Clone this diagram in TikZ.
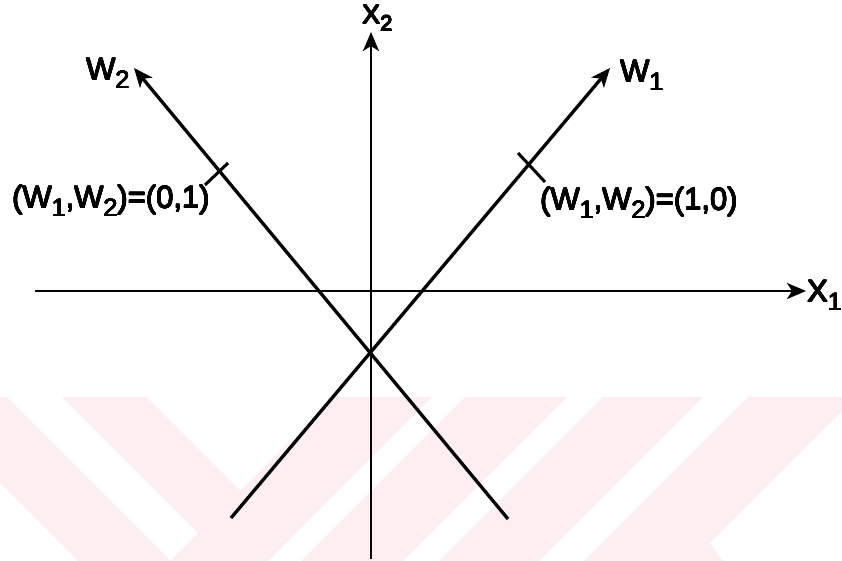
\documentclass[tikz,border=0pt]{standalone}
\usepackage{fontspec}
\setmainfont{Liberation Sans}
\usepackage{contour}
\contourlength{0.35pt}
\contournumber{16}
\usetikzlibrary{arrows.meta}
\definecolor{wmpink}{RGB}{253,238,241}
\newcommand\lowsub[1]{\raisebox{-0.27em}{\fontsize{25}{25}\selectfont #1}}
\newcommand\heavytext[1]{\contour{black}{#1}}
\begin{document}
\begin{tikzpicture}[x=1pt,y=-1pt,
  tipstyle/.style={-{Stealth[length=19pt,width=16pt,inset=5pt]}},
  axisline/.style={line width=2.4pt,tipstyle},
  wline/.style={line width=3.3pt,tipstyle},
  tickline/.style={line width=3pt},
  lbl/.style={font=\fontsize{31}{33}\selectfont, inner sep=0pt, anchor=base west},
  wm/.style={fill=wmpink, draw=none}]
\useasboundingbox (0,0) rectangle (842,561);
% watermark
\begin{scope}
\clip (0,397) rectangle (842,561);
\fill[wm] (-86,397) -- (7,397) -- (171,561) -- (78,561) -- cycle;
\fill[wm] (62,397) -- (147,397) -- (289.5,539.5) -- (268,561) -- (226,561) -- cycle;
\fill[wm] (334,397) -- (432,397) -- (268,561) -- (170,561) -- cycle;
\fill[wm] (465,397) -- (567,397) -- (403,561) -- (301,561) -- cycle;
\fill[wm] (603,397) -- (703,397) -- (539,561) -- (439,561) -- cycle;
\fill[wm] (748,397) -- (856,397) -- (710,543) -- (723,561) -- (584,561) -- cycle;
\end{scope}
% coordinates
\coordinate (x1s) at (35,291);
\coordinate (x1e) at (806,291);
\coordinate (x2s) at (371,559);
\coordinate (x2e) at (371,32);
\coordinate (w1s) at (231,518);
\coordinate (w1e) at (610,68);
\coordinate (w2s) at (508,519);
\coordinate (w2e) at (134,68);
\coordinate (t2a) at (228,163);
\coordinate (t2b) at (205,185);
\coordinate (t1a) at (518,153);
\coordinate (t1b) at (545,182);
% lines
\draw[axisline] (x1s) -- (x1e);
\draw[axisline] (x2s) -- (x2e);
\draw[wline] (w1s) -- (w1e);
\draw[wline] (w2s) -- (w2e);
\draw[tickline] (t2a) -- (t2b);
\draw[tickline] (t1a) -- (t1b);
% labels
\node[lbl] (lx1) at (807,302) {\heavytext{X\lowsub{1}}};
\node[lbl,font=\fontsize{27}{29}\selectfont] (lx2) at (362,24) {\heavytext{X\raisebox{-0.27em}{\fontsize{22}{22}\selectfont 2}}};
\node[lbl] (lw1) at (620,82) {\heavytext{W\lowsub{1}}};
\node[lbl] (lw2) at (86,80) {\heavytext{W\lowsub{2}}};
\node[lbl] (l01) at (12,208) {\heavytext{(W\lowsub{1},W\lowsub{2})=(0,1)}};
\node[lbl] (l10) at (540,210) {\heavytext{(W\lowsub{1},W\lowsub{2})=(1,0)}};
\end{tikzpicture}
\end{document}
